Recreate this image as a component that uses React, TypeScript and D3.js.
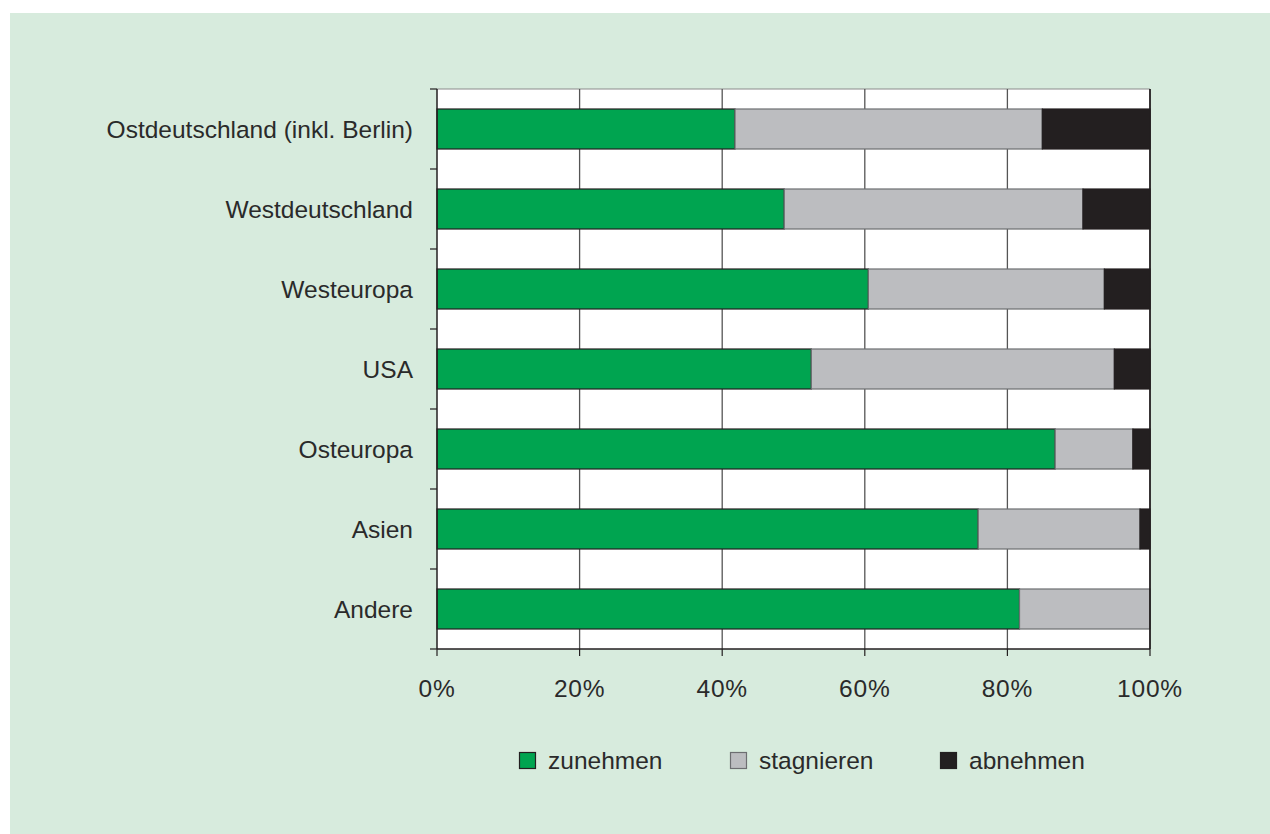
import React from "react";
import * as d3 from "d3";

const categories = [
    "Ostdeutschland (inkl. Berlin)",
    "Westdeutschland",
    "Westeuropa",
    "USA",
    "Osteuropa",
    "Asien",
    "Andere",
];
const seriesNames = ["zunehmen", "stagnieren", "abnehmen"];
// percentages per category
const zunehmen = [41.8, 48.7, 60.5, 52.5, 86.7, 75.9, 81.7];
const stagnieren = [43.1, 41.9, 33.1, 42.5, 10.9, 22.7, 18.3];
const abnehmen = [15.1, 9.4, 6.4, 5.0, 2.4, 1.4, 0];
const xTicks = [0, 20, 40, 60, 80, 100];

const colors = ["#00a450", "#bcbdc0", "#231f20"];
const strokes = ["#231f20", "#6d6e71", "#231f20"];

const FONT = "'Liberation Sans', Arial, Helvetica, sans-serif";
const TEXT = "#2a2a2a";

const App: React.FC = () => {
    const width = 1270;
    const height = 834;
    const margin = { top: 89, left: 437 };
    const innerW = 1150 - margin.left;
    const innerH = 649 - margin.top;

    const xScale = d3.scaleLinear().domain([0, 100]).range([0, innerW]);
    const yScale = d3
        .scaleBand()
        .domain(categories)
        .range([0, innerH])
        .paddingInner(0.5)
        .paddingOuter(0.25);

    const table = categories.map((c, i) => ({
        cat: c,
        zunehmen: zunehmen[i],
        stagnieren: stagnieren[i],
        abnehmen: abnehmen[i],
    }));
    const stack = d3.stack<any>().keys(seriesNames)(table);

    // band boundaries for left ticks
    const step = innerH / categories.length;
    const yTicks = d3.range(categories.length + 1).map((i) => i * step);

    const legendX = [519, 730, 940];

    return (
        <svg
            width={width}
            height={height}
            style={{ position: "absolute", left: 0, top: 0 }}
            fontFamily={FONT}
        >
            <rect x={10} y={13} width={width - 10} height={height - 13} fill="#d7ebdd" />
            <g transform={`translate(${margin.left},${margin.top})`}>
                {/* plot area */}
                <rect x={0} y={0} width={innerW} height={innerH} fill="#ffffff" />
                <line x1={0} x2={innerW} y1={0} y2={0} stroke="#8a8a8a" strokeWidth={1} />
                {/* grid */}
                {xTicks.slice(1, -1).map((t) => (
                    <line
                        key={t}
                        x1={xScale(t)}
                        x2={xScale(t)}
                        y1={0}
                        y2={innerH}
                        stroke="#555555"
                        strokeWidth={1.3}
                    />
                ))}
                {/* bars */}
                {stack.map((s, si) =>
                    s.map((d, i) =>
                        d[1] - d[0] > 0 ? (
                            <rect
                                key={`${si}-${i}`}
                                x={xScale(d[0])}
                                y={yScale(categories[i])}
                                width={xScale(d[1]) - xScale(d[0])}
                                height={yScale.bandwidth()}
                                fill={colors[si]}
                                stroke={strokes[si]}
                                strokeWidth={1.2}
                            />
                        ) : null
                    )
                )}
                <line x1={innerW} x2={innerW} y1={0} y2={innerH} stroke="#231f20" strokeWidth={1.8} />
                {/* left axis */}
                <line x1={0} x2={0} y1={0} y2={innerH} stroke="#231f20" strokeWidth={1.5} />
                {yTicks.map((t, i) => (
                    <line key={i} x1={-7} x2={0} y1={t} y2={t} stroke="#231f20" strokeWidth={1.2} />
                ))}
                {categories.map((c) => (
                    <text
                        key={c}
                        x={-24}
                        y={(yScale(c) || 0) + yScale.bandwidth() / 2}
                        textAnchor="end"
                        dominantBaseline="central"
                        fontSize={24.5}
                        fill={TEXT}
                    >
                        {c}
                    </text>
                ))}
                {/* bottom axis */}
                <line x1={0} x2={innerW} y1={innerH} y2={innerH} stroke="#231f20" strokeWidth={1.5} />
                {xTicks.map((t) => (
                    <g key={t} transform={`translate(${xScale(t)},${innerH})`}>
                        <line y1={0} y2={7} stroke="#231f20" strokeWidth={1.2} />
                        <text
                            y={48}
                            textAnchor="middle"
                            fontSize={24.5}
                            letterSpacing={0.8}
                            fill={TEXT}
                        >
                            {`${t}%`}
                        </text>
                    </g>
                ))}
            </g>
            {/* legend */}
            {seriesNames.map((n, i) => (
                <g key={n} transform={`translate(${legendX[i]},752)`}>
                    <rect
                        x={0.5}
                        y={0.5}
                        width={16}
                        height={16}
                        fill={colors[i]}
                        stroke={strokes[i]}
                        strokeWidth={1.2}
                    />
                    <text x={29} y={8.5} dominantBaseline="central" fontSize={24.5} fill={TEXT}>
                        {n}
                    </text>
                </g>
            ))}
        </svg>
    );
};

export default App;
